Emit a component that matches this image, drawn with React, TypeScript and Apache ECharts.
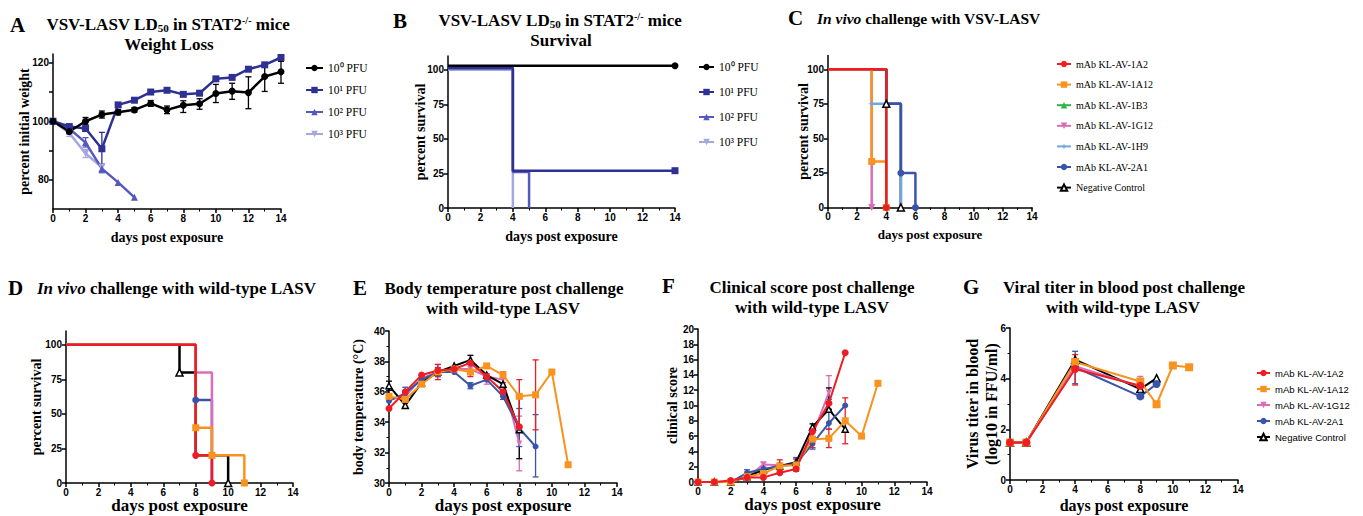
import React, { useEffect, useRef } from 'react';
import * as echarts from 'echarts';

const SERIF = '"Liberation Serif", "Times New Roman", serif';
const SANS = '"Liberation Sans", Arial, sans-serif';

// ---------- Panel A: weight loss ----------
const aDays = [0, 1, 2, 3, 4, 5, 6, 7, 8, 9, 10, 11, 12, 13, 14];
const aPfu0 = [100, 96.5, 100, 102.3, 103.1, 103.9, 106.1, 103.9, 105.5, 106.0, 109.5, 110.3, 109.8, 115.3, 116.9];
const aPfu0Lo = [99.6, 95.7, 98.8, 101.1, 102.2, 103.1, 105.1, 102.6, 103.0, 104.1, 106.4, 107.5, 104.3, 110.2, 113.0];
const aPfu0Hi = [100.4, 97.3, 101.3, 103.5, 104.0, 104.7, 107.1, 105.2, 107.0, 107.7, 112.6, 113.0, 115.2, 119.5, 120.5];
const aPfu1 = [100, 98.2, 97.5, 90.6, 105.6, 107.2, 110.0, 110.6, 109.2, 109.6, 114.5, 115.0, 117.8, 119.3, 121.8];
const aPfu1ErrDays = [3];
const aPfu1Lo = [85.3];
const aPfu1Hi = [96.2];
const aPfu2 = [100, 97.5, 92.7, 83.8, 79.1, 74.0];
const aPfu2ErrDays = [2, 3];
const aPfu2Lo = [91.2, 82.4];
const aPfu2Hi = [94.4, 85.2];
const aPfu3 = [100, 96.0, 89.0, 84.3];
const aPfu3ErrDays = [1, 2];
const aPfu3Lo = [94.8, 87.6];
const aPfu3Hi = [97.2, 90.4];

// ---------- Panel B: survival (step points) ----------
const bPfu0 = [[0, 103], [14, 103]];
const bPfu1 = [[0, 101.5], [4, 27], [14, 27]];
const bPfu2 = [[0, 101], [4, 26], [5, 0]];
const bPfu3 = [[0, 100], [4, 0]];

// ---------- Panel C: VSV-LASV challenge survival ----------
const c1A2 = [[0, 100], [4, 0]];
const c1A12 = [[0, 100], [3, 33.3], [4, 0]];
const c1B3 = [[0, 100], [4, 0]];
const c1G12 = [[0, 100], [3, 0]];
const c1H9 = [[0, 100], [3, 75], [5, 0]];
const c2A1 = [[0, 100], [4, 75], [5, 25], [6, 0]];
const cNeg = [[0, 100], [4, 75], [5, 0]];

// ---------- Panel D: wild-type LASV survival ----------
const dNeg = [[0, 100], [7, 80], [8, 20], [10, 0]];
const d2A1 = [[0, 100], [8, 60], [9, 0]];
const d1G12 = [[0, 100], [8, 80], [9, 0]];
const d1A12 = [[0, 100], [8, 40], [9, 20], [11, 0]];
const d1A2 = [[0, 100], [8, 20], [9, 0]];

// ---------- Panel E: body temperature ----------
const eDays = [0, 1, 2, 3, 4, 5, 6, 7, 8, 9, 10, 11];
const eNeg = [36.4, 35.1, 36.6, 37.3, 37.7, 38.1, 37.1, 36.5, 33.5];
const e2A1 = [35.4, 35.9, 36.8, 37.3, 37.3, 36.4, 36.8, 35.7, 33.6, 32.4];
const e1G12 = [35.5, 35.7, 36.9, 37.3, 37.5, 37.5, 37.0, 36.8, 32.6];
const e1A12 = [35.7, 35.5, 36.5, 37.3, 37.5, 37.3, 37.7, 37.1, 35.7, 35.8, 37.3, 31.2];
const e1A2 = [34.9, 36.0, 37.1, 37.4, 37.5, 37.9, 37.0, 36.0, 33.7];
const eNegErrDays = [0, 1, 5, 8];
const eNegLo = [36.1, 35.0, 37.8, 31.6];
const eNegHi = [36.7, 35.4, 38.4, 35.6];
const e2A1ErrDays = [1, 3, 5, 7, 8, 9];
const e2A1Lo = [35.7, 37.0, 36.2, 35.5, 32.4, 30.4];
const e2A1Hi = [36.3, 37.6, 36.6, 35.9, 34.9, 34.5];
const e1G12ErrDays = [3, 5, 6, 8];
const e1G12Lo = [37.0, 37.2, 36.5, 30.8];
const e1G12Hi = [37.8, 37.8, 37.2, 34.4];
const e1A2ErrDays = [3, 5, 7, 8, 9];
const e1A2Lo = [36.8, 37.0, 36.6, 33.7, 33.5];
const e1A2Hi = [37.8, 38.0, 37.3, 36.8, 38.1];

// ---------- Panel F: clinical score ----------
const fDays = [0, 1, 2, 3, 4, 5, 6, 7, 8, 9, 10, 11];
const fNeg = [0, 0, 0, 0.7, 1.6, 2.1, 2.6, 7.2, 9.5, 6.9];
const f2A1 = [0, 0, 0, 1.2, 1.7, 2.1, 2.4, 5.0, 7.7, 10.0];
const f1G12 = [0, 0, 0, 0.6, 2.3, 2.2, 2.3, 6.1, 11.7];
const f1A12 = [0, 0, 0, 0.7, 1.1, 2.1, 2.2, 5.6, 5.7, 8.0, 6.0, 12.9];
const f1A2 = [0, 0, 0.2, 0.6, 0.6, 1.2, 1.7, 6.6, 10.3, 16.9];
const fNegErrDays = [7, 8];
const fNegLo = [6.8, 9.5];
const fNegHi = [7.6, 12.3];
const f2A1ErrDays = [3, 6, 7, 8];
const f2A1Lo = [1.0, 1.4, 4.3, 6.9];
const f2A1Hi = [1.6, 3.2, 5.8, 10.8];
const f1G12ErrDays = [4, 8];
const f1G12Lo = [2.0, 9.5];
const f1G12Hi = [2.6, 13.9];
const f1A2ErrDays = [5, 6, 7, 8, 9];
const f1A2Lo = [1.5, 1.5, 4.5, 4.5, 5.0];
const f1A2Hi = [2.9, 3.0, 7.0, 6.9, 11.0];

// ---------- Panel G: viral titer ----------
const gDays1A2 = [0, 1, 4, 8];
const g1A2 = [1.48, 1.48, 4.38, 3.72];
const gDays1A12 = [0, 1, 4, 8, 9, 10, 11];
const g1A12 = [1.48, 1.48, 4.66, 3.89, 2.99, 4.52, 4.45];
const gDays1G12 = [0, 1, 4, 8];
const g1G12 = [1.48, 1.48, 4.49, 3.69];
const gDays2A1 = [0, 1, 4, 8, 9];
const g2A1 = [1.48, 1.48, 4.45, 3.3, 3.79];
const gDaysNeg = [0, 1, 4, 8, 9];
const gNeg = [1.48, 1.48, 4.75, 3.59, 4.02];
const g2A1ErrDays = [4];
const g2A1Lo = [3.8];
const g2A1Hi = [5.08];
const g1A2ErrDays = [4];
const g1A2Lo = [3.75];
const g1A2Hi = [4.95];
const g1G12ErrDays = [8];
const g1G12Lo = [3.5];
const g1G12Hi = [4.09];

// ---------- names ----------
const pfuNames = ['10⁰ PFU', '10¹ PFU', '10² PFU', '10³ PFU'];
const mAbNamesC = ['mAb KL-AV-1A2', 'mAb KL-AV-1A12', 'mAb KL-AV-1B3', 'mAb KL-AV-1G12', 'mAb KL-AV-1H9', 'mAb KL-AV-2A1', 'Negative Control'];
const mAbNamesG = ['mAb KL-AV-1A2', 'mAb KL-AV-1A12', 'mAb KL-AV-1G12', 'mAb KL-AV-2A1', 'Negative Control'];

// ---------- styles ----------
const C_BLACK = '#000000';
const C_NAVY = '#2E3192';
const C_MID = '#5558BD';
const C_LIGHT = '#A6A8DC';
const C_RED = '#EE1D25';
const C_ORANGE = '#F7931E';
const C_GREEN = '#2DB34A';
const C_PINK = '#D96DB8';
const C_LBLUE = '#6FA8E0';
const C_BLUE = '#3A55A8';

const TRI_DOWN = 'path://M0,0L10,0L5,9Z';
const STAR4 = 'path://M5,0L6.2,3.8L10,5L6.2,6.2L5,10L3.8,6.2L0,5L3.8,3.8Z';

function line(name: string, gi: number, xs: number[], ys: number[], color: string, symbol: string, opts: any = {}) {
  return {
    type: 'line', name, xAxisIndex: gi, yAxisIndex: gi,
    data: ys.map((y, i) => [xs[i], y]),
    symbol, symbolSize: opts.size ?? 7,
    lineStyle: { color, width: opts.width ?? 2 },
    itemStyle: opts.itemStyle ?? { color },
    z: opts.z ?? 3,
  };
}

function km(name: string, gi: number, pts: number[][], color: string, symbol: string, marks: number[], opts: any = {}) {
  return {
    type: 'line', name, xAxisIndex: gi, yAxisIndex: gi, step: 'end',
    data: pts.map((p, i) => (marks.indexOf(i) >= 0 ? { value: p } : { value: p, symbol: 'none' })),
    symbol, symbolSize: opts.size ?? 7,
    lineStyle: { color, width: opts.width ?? 2.5 },
    itemStyle: opts.itemStyle ?? { color },
    z: opts.z ?? 3,
  };
}

function err(gi: number, color: string, xs: number[], lo: number[], hi: number[]) {
  return {
    type: 'custom', xAxisIndex: gi, yAxisIndex: gi, silent: true, z: 2,
    data: xs.map((x, i) => [x, lo[i], hi[i]]),
    encode: { x: 0, y: [1, 2] },
    renderItem: (params: any, api: any) => {
      const x = api.value(0);
      const p1 = api.coord([x, api.value(1)]);
      const p2 = api.coord([x, api.value(2)]);
      const w = 3;
      const st = { stroke: color, lineWidth: 1.3, fill: null };
      return {
        type: 'group',
        children: [
          { type: 'line', shape: { x1: p1[0], y1: p1[1], x2: p2[0], y2: p2[1] }, style: st },
          { type: 'line', shape: { x1: p1[0] - w, y1: p1[1], x2: p1[0] + w, y2: p1[1] }, style: st },
          { type: 'line', shape: { x1: p2[0] - w, y1: p2[1], x2: p2[0] + w, y2: p2[1] }, style: st },
        ],
      };
    },
  };
}

const axisCommon = {
  axisLine: { show: true, onZero: false, lineStyle: { color: '#000', width: 1.5 } },
  axisTick: { show: true, length: 4, lineStyle: { color: '#000', width: 1.5 } },
  axisLabel: { color: '#000', fontFamily: SANS, fontWeight: 'bold', fontSize: 10, margin: 4 },
  splitLine: { show: false },
  minorSplitLine: { show: false },
  nameMoveOverlap: false,
};

function xAx(gi: number, nameGap: number, nameSize: number) {
  return {
    type: 'value', gridIndex: gi, min: 0, max: 14, interval: 2,
    name: 'days post exposure', nameLocation: 'middle', nameGap,
    nameTextStyle: { fontFamily: SERIF, fontWeight: 'bold', fontSize: nameSize, color: '#000' },
    ...axisCommon,
    minorTick: { show: true, splitNumber: 2, length: 2.5, lineStyle: { color: '#000', width: 1 } },
  };
}

function yAx(gi: number, name: string, nameGap: number, nameSize: number, min: number, max: number, interval: number, labels: number[] | null, minor: boolean) {
  const ax: any = {
    type: 'value', gridIndex: gi, min, max, interval,
    name, nameLocation: 'middle', nameGap,
    nameTextStyle: { fontFamily: SERIF, fontWeight: 'bold', fontSize: nameSize, color: '#000', lineHeight: nameSize + 3 },
    ...axisCommon,
    minorTick: { show: minor, splitNumber: 2, length: 2.5, lineStyle: { color: '#000', width: 1 } },
  };
  if (labels) {
    ax.axisLabel = { ...axisCommon.axisLabel, customValues: labels, formatter: (v: number) => (labels.indexOf(v) >= 0 ? String(v) : '') };
    ax.axisTick = { ...axisCommon.axisTick, customValues: labels };
  }
  return ax;
}

function txt(x: number, y: number, text: string, size: number, align: string, rich?: any) {
  return {
    type: 'text', x, y, silent: true,
    style: {
      text, fill: '#000', fontFamily: SERIF, fontWeight: 'bold', fontSize: size,
      align, verticalAlign: 'middle', textAlign: align, textVerticalAlign: 'middle',
      rich,
    },
  };
}

const titleRich = (size: number) => ({
  t: { fontFamily: SERIF, fontWeight: 'bold', fontSize: size, fill: '#000', lineHeight: size + 1 },
  i: { fontFamily: SERIF, fontWeight: 'bold', fontStyle: 'italic', fontSize: size, fill: '#000', lineHeight: size + 1 },
  s: { fontFamily: SERIF, fontWeight: 'bold', fontSize: size * 0.65, fill: '#000', lineHeight: size * 0.55, verticalAlign: 'bottom' },
  p: { fontFamily: SERIF, fontWeight: 'bold', fontSize: size * 0.6, fill: '#000', lineHeight: size * 0.5, verticalAlign: 'top' },
});

function legend(left: number, top: number, data: string[], itemWidth: number, gap: number, font: string, size: number) {
  return {
    left, top, orient: 'vertical', itemWidth, itemHeight: 8, itemGap: gap, data,
    selectedMode: false, padding: 0,
    textStyle: { fontFamily: font, fontSize: size, color: '#000' },
  };
}

function buildOption(): any {
  const negStyle = { color: '#fff', borderColor: '#000', borderWidth: 1.5 };
  const grid = [
    { left: 53, top: 54, width: 228, height: 155 },
    { left: 448, top: 56, width: 227, height: 152 },
    { left: 828, top: 55.5, width: 204, height: 152 },
    { left: 66, top: 331, width: 227, height: 152 },
    { left: 389, top: 331, width: 228, height: 152 },
    { left: 698, top: 329, width: 229, height: 153 },
    { left: 1010, top: 328, width: 228, height: 152 },
  ].map((g) => ({ ...g, containLabel: false, outerBoundsMode: 'none' }));

  const xAxis = [xAx(0, 21, 14), xAx(1, 21, 14), xAx(2, 20, 13), xAx(3, 14, 17), xAx(4, 14, 17), xAx(5, 14, 17), xAx(6, 17, 16)];
  const yAxis = [
    yAx(0, 'percent initial weight', 20, 14, 70, 123, 10, [80, 90, 100, 110, 120], false),
    yAx(1, 'percent survival', 19, 14, 0, 110, 25, [0, 25, 50, 75, 100], false),
    yAx(2, 'percent survival', 16, 14, 0, 110, 25, [0, 25, 50, 75, 100], false),
    yAx(3, 'percent survival', 21, 14, 0, 110, 25, [0, 25, 50, 75, 100], false),
    yAx(4, 'body temperature (°C)', 22, 14, 30, 40, 2, null, true),
    yAx(5, 'clinical score', 17, 14, 0, 20, 2, null, false),
    yAx(6, 'Virus titer in blood\n(log10 in FFU/ml)', 9, 16, 0, 6, 2, null, true),
  ];
  // A: only every 20 labelled
  yAxis[0].axisLabel.customValues = [80, 100, 120];
  yAxis[0].axisLabel.formatter = (v: number) => ([80, 100, 120].indexOf(v) >= 0 ? String(v) : '');

  const series: any[] = [
    // A
    err(0, C_LIGHT, aPfu3ErrDays, aPfu3Lo, aPfu3Hi),
    err(0, C_MID, aPfu2ErrDays, aPfu2Lo, aPfu2Hi),
    err(0, C_NAVY, aPfu1ErrDays, aPfu1Lo, aPfu1Hi),
    err(0, C_BLACK, aDays, aPfu0Lo, aPfu0Hi),
    line(pfuNames[3], 0, aDays, aPfu3, C_LIGHT, TRI_DOWN, { width: 2.5 }),
    line(pfuNames[2], 0, aDays, aPfu2, C_MID, 'triangle', { width: 2.5 }),
    line(pfuNames[1], 0, aDays, aPfu1, C_NAVY, 'rect', { width: 2.5 }),
    line(pfuNames[0], 0, aDays, aPfu0, C_BLACK, 'circle', { width: 2.5 }),
    // B
    km(pfuNames[3], 1, bPfu3, C_LIGHT, TRI_DOWN, []),
    km(pfuNames[2], 1, bPfu2, C_MID, 'triangle', []),
    km(pfuNames[1], 1, bPfu1, C_NAVY, 'rect', [2]),
    km(pfuNames[0], 1, bPfu0, C_BLACK, 'circle', [1]),
    // C
    km(mAbNamesC[6], 2, cNeg, C_BLACK, 'triangle', [1, 2], { itemStyle: negStyle }),
    km(mAbNamesC[2], 2, c1B3, C_GREEN, 'triangle', []),
    km(mAbNamesC[4], 2, c1H9, C_LBLUE, STAR4, [1]),
    km(mAbNamesC[5], 2, c2A1, C_BLUE, 'circle', [2, 3]),
    km(mAbNamesC[3], 2, c1G12, C_PINK, TRI_DOWN, [1]),
    km(mAbNamesC[1], 2, c1A12, C_ORANGE, 'rect', [1, 2]),
    km(mAbNamesC[0], 2, c1A2, C_RED, 'circle', [1]),
    // D
    km(mAbNamesC[6], 3, dNeg, C_BLACK, 'triangle', [1, 3], { itemStyle: negStyle }),
    km(mAbNamesC[5], 3, d2A1, C_BLUE, 'circle', [1]),
    km(mAbNamesC[3], 3, d1G12, C_PINK, TRI_DOWN, []),
    km(mAbNamesC[1], 3, d1A12, C_ORANGE, 'rect', [1, 2, 3]),
    km(mAbNamesC[0], 3, d1A2, C_RED, 'circle', [1, 2]),
    // E
    err(4, C_PINK, e1G12ErrDays, e1G12Lo, e1G12Hi),
    err(4, C_BLACK, eNegErrDays, eNegLo, eNegHi),
    err(4, C_BLUE, e2A1ErrDays, e2A1Lo, e2A1Hi),
    err(4, C_RED, e1A2ErrDays, e1A2Lo, e1A2Hi),
    line(mAbNamesC[3], 4, eDays, e1G12, C_PINK, TRI_DOWN, { size: 6 }),
    line(mAbNamesC[6], 4, eDays, eNeg, C_BLACK, 'triangle', { size: 6, itemStyle: negStyle }),
    line(mAbNamesC[5], 4, eDays, e2A1, C_BLUE, 'circle', { size: 6 }),
    line(mAbNamesC[1], 4, eDays, e1A12, C_ORANGE, 'rect', { size: 7 }),
    line(mAbNamesC[0], 4, eDays, e1A2, C_RED, 'circle', { size: 7 }),
    // F
    err(5, C_PINK, f1G12ErrDays, f1G12Lo, f1G12Hi),
    err(5, C_BLACK, fNegErrDays, fNegLo, fNegHi),
    err(5, C_BLUE, f2A1ErrDays, f2A1Lo, f2A1Hi),
    err(5, C_RED, f1A2ErrDays, f1A2Lo, f1A2Hi),
    line(mAbNamesC[3], 5, fDays, f1G12, C_PINK, TRI_DOWN, { size: 6 }),
    line(mAbNamesC[6], 5, fDays, fNeg, C_BLACK, 'triangle', { size: 6, itemStyle: negStyle }),
    line(mAbNamesC[5], 5, fDays, f2A1, C_BLUE, 'circle', { size: 6 }),
    line(mAbNamesC[1], 5, fDays, f1A12, C_ORANGE, 'rect', { size: 7 }),
    line(mAbNamesC[0], 5, fDays, f1A2, C_RED, 'circle', { size: 7 }),
    // G
    err(6, C_PINK, g1G12ErrDays, g1G12Lo, g1G12Hi),
    err(6, C_BLUE, g2A1ErrDays, g2A1Lo, g2A1Hi),
    err(6, C_RED, g1A2ErrDays, g1A2Lo, g1A2Hi),
    line(mAbNamesG[4], 6, gDaysNeg, gNeg, C_BLACK, 'triangle', { size: 7, itemStyle: negStyle }),
    line(mAbNamesG[3], 6, gDays2A1, g2A1, C_BLUE, 'circle', { size: 8 }),
    line(mAbNamesG[2], 6, gDays1G12, g1G12, C_PINK, TRI_DOWN, { size: 7 }),
    line(mAbNamesG[1], 6, gDays1A12, g1A12, C_ORANGE, 'rect', { size: 8 }),
    line(mAbNamesG[0], 6, gDays1A2, g1A2, C_RED, 'circle', { size: 8 }),
  ];

  const graphic = [
    txt(10, 25, 'A', 21, 'left'),
    txt(168, 24, '{t|VSV-LASV LD}{s|50}{t| in STAT2}{p|-/-}{t| mice}', 17, 'center', titleRich(17)),
    txt(169, 44, 'Weight Loss', 17, 'center'),
    txt(393, 21, 'B', 21, 'left'),
    txt(560, 20, '{t|VSV-LASV LD}{s|50}{t| in STAT2}{p|-/-}{t| mice}', 17, 'center', titleRich(17)),
    txt(561, 40, 'Survival', 17, 'center'),
    txt(788, 18, 'C', 21, 'left'),
    txt(817, 18, '{i|In vivo}{t| challenge with VSV-LASV}', 15.5, 'left', titleRich(15.5)),
    txt(8, 288, 'D', 21, 'left'),
    txt(37, 288, '{i|In vivo}{t| challenge with wild-type LASV}', 17, 'left', titleRich(17)),
    txt(353, 288, 'E', 21, 'left'),
    txt(504, 288, 'Body temperature post challenge', 17, 'center'),
    txt(503, 308, 'with wild-type LASV', 17, 'center'),
    txt(662, 286, 'F', 21, 'left'),
    txt(812, 287, 'Clinical score post challenge', 17, 'center'),
    txt(812, 307, 'with wild-type LASV', 17, 'center'),
    txt(963, 287, 'G', 21, 'left'),
    txt(1124, 287, 'Viral titer in blood post challenge', 17, 'center'),
    txt(1123, 307, 'with wild-type LASV', 17, 'center'),
  ];

  return {
    animation: false,
    backgroundColor: '#fff',
    grid,
    xAxis,
    yAxis,
    legend: [
      legend(305, 62, pfuNames, 17, 10, SERIF, 11.5),
      legend(698, 61, pfuNames, 15, 13, SERIF, 11.5),
      legend(1056, 59, mAbNamesC, 14, 10.6, SERIF, 10),
      legend(1256, 368, mAbNamesG, 13, 6, SANS, 9.5),
    ],
    series,
    graphic,
  };
}

export default function App() {
  const ref = useRef<HTMLDivElement>(null);
  useEffect(() => {
    if (!ref.current) return;
    const chart = echarts.init(ref.current, null, { renderer: 'svg' });
    chart.setOption(buildOption());
    return () => chart.dispose();
  }, []);
  return <div ref={ref} style={{ position: 'absolute', left: 0, top: 0, width: 1363, height: 516, background: '#fff' }} />;
}
